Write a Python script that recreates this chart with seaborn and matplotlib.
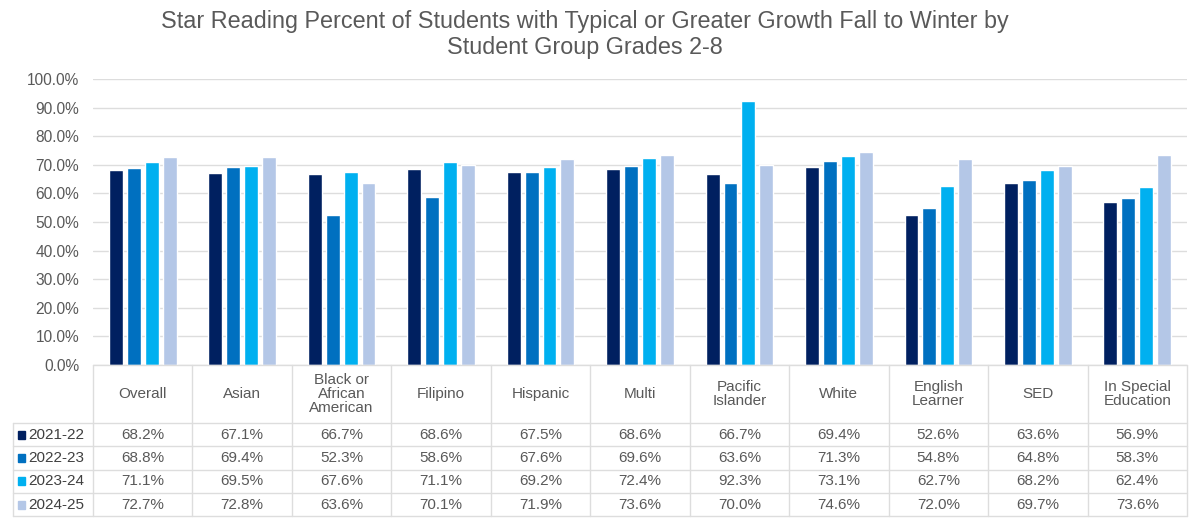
from matplotlib import pyplot as plt
from matplotlib.patches import Rectangle
import seaborn as sns
import pandas as pd
import numpy as np

groups = ["Overall", "Asian", "Black or\nAfrican\nAmerican", "Filipino", "Hispanic",
          "Multi", "Pacific\nIslander", "White", "English\nLearner", "SED",
          "In Special\nEducation"]
years = ["2021-22", "2022-23", "2023-24", "2024-25"]
v2122 = [68.2, 67.1, 66.7, 68.6, 67.5, 68.6, 66.7, 69.4, 52.6, 63.6, 56.9]
v2223 = [68.8, 69.4, 52.3, 58.6, 67.6, 69.6, 63.6, 71.3, 54.8, 64.8, 58.3]
v2324 = [71.1, 69.5, 67.6, 71.1, 69.2, 72.4, 92.3, 73.1, 62.7, 68.2, 62.4]
v2425 = [72.7, 72.8, 63.6, 70.1, 71.9, 73.6, 70.0, 74.6, 72.0, 69.7, 73.6]
colors = ["#002060", "#0070C0", "#00B0F0", "#B4C7E7"]

series = [v2122, v2223, v2324, v2425]
df = pd.DataFrame({
    "Group": np.tile(groups, len(years)),
    "Year": np.repeat(years, len(groups)),
    "Value": np.concatenate(series),
})

sns.set_style("white")
plt.rcParams["font.family"] = ["Liberation Sans", "DejaVu Sans"]
grey = "#595959"
line_c = "#DDDDDD"

fig = plt.figure(figsize=(12, 5.28), dpi=100)
ax = fig.add_axes([93 / 1200, 163 / 528, 1094 / 1200, 286 / 528])

sns.barplot(data=df, x="Group", y="Value", hue="Year", palette=colors,
            width=0.72, gap=0.22, ax=ax, legend=False, saturation=1)

ax.set_xlim(-0.5, len(groups) - 0.5)
ax.set_ylim(0, 100)
ax.set_yticks(np.arange(0, 101, 10))
ax.set_yticklabels([f"{t:.1f}%" for t in np.arange(0, 101, 10)], color=grey, fontsize=11.2)
ax.set_xticks([])
ax.set_xlabel("")
ax.set_ylabel("")
ax.tick_params(axis="y", length=0, pad=10)
ax.yaxis.grid(True, color=line_c, linewidth=1)
ax.set_axisbelow(True)
for s in ax.spines.values():
    s.set_visible(False)

fig.text(0.487, 0.982, "Star Reading Percent of Students with Typical or Greater Growth Fall to Winter by\nStudent Group Grades 2-8",
         ha="center", va="top", fontsize=16.8, color=grey, linespacing=1.18)

# data table under the bars
tr = ax.get_xaxis_transform()
ah = 286.0
hdr = -58 / ah
rh = -23.3 / ah
n = len(groups)
left_lbl = -1.305
bottom = hdr + 4 * rh

ax.plot([-0.5, n - 0.5], [0, 0], color=line_c, lw=1, transform=tr, clip_on=False)
for i in range(n + 1):
    ax.plot([i - 0.5, i - 0.5], [0, bottom], color=line_c, lw=1, transform=tr, clip_on=False)
ax.plot([left_lbl, left_lbl], [hdr, bottom], color=line_c, lw=1, transform=tr, clip_on=False)
for r in range(5):
    y = hdr + r * rh
    ax.plot([left_lbl, n - 0.5], [y, y], color=line_c, lw=1, transform=tr, clip_on=False)

for i, g in enumerate(groups):
    ax.text(i, hdr / 2, g, ha="center", va="center", fontsize=11, color=grey,
            linespacing=1.0, transform=tr, clip_on=False)

for r, (yr, vals) in enumerate(zip(years, series)):
    yc = hdr + (r + 0.5) * rh
    ax.add_patch(Rectangle((left_lbl + 0.05, yc - 0.014), 0.075, 0.028, color=colors[r],
                           transform=tr, clip_on=False))
    ax.text(left_lbl + 0.155, yc, yr, ha="left", va="center", fontsize=11,
            color="#404040", transform=tr, clip_on=False)
    for i, v in enumerate(vals):
        ax.text(i, yc, f"{v:.1f}%", ha="center", va="center", fontsize=11,
                color=grey, transform=tr, clip_on=False)

fig.savefig("out.png", dpi=100)
